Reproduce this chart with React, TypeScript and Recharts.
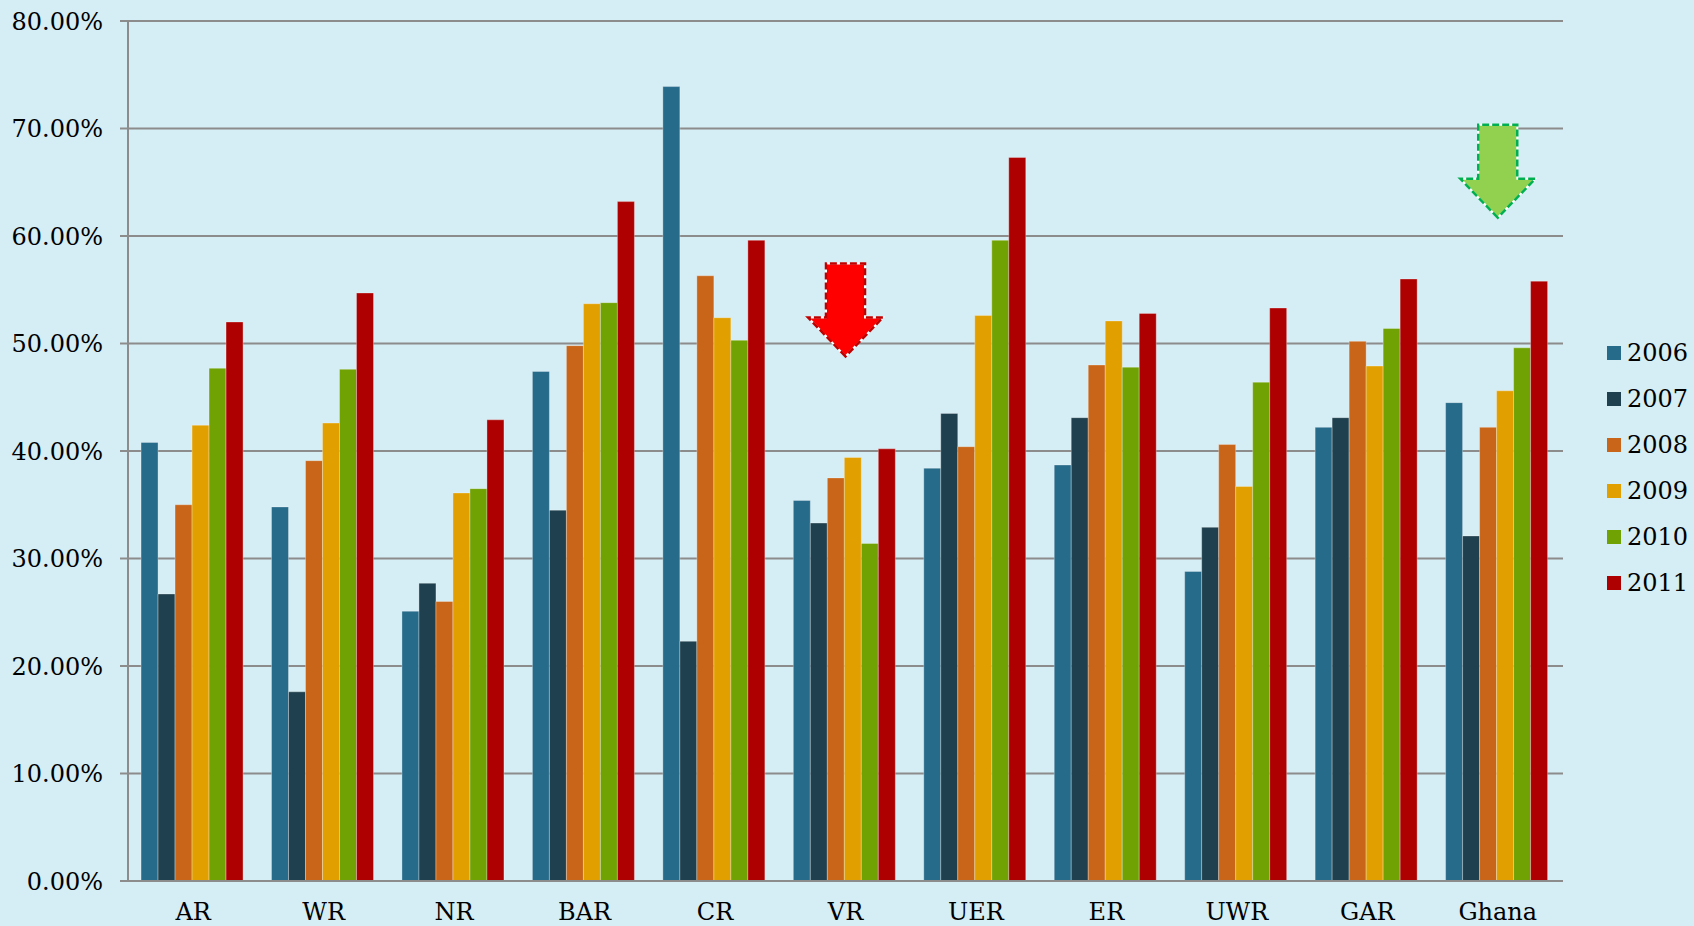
import { BarChart, Bar, XAxis, YAxis, CartesianGrid, ReferenceDot } from "recharts";

const CATEGORIES = ["AR", "WR", "NR", "BAR", "CR", "VR", "UER", "ER", "UWR", "GAR", "Ghana"];
const YEARS = ["2006", "2007", "2008", "2009", "2010", "2011"];
const COLORS = ["#276B8A", "#1F404E", "#C86518", "#E1A000", "#70A204", "#AE0000"];

// percentages
const Y2006 = [40.8, 34.8, 25.1, 47.4, 73.9, 35.4, 38.4, 38.7, 28.8, 42.2, 44.5];
const Y2007 = [26.7, 17.6, 27.7, 34.5, 22.3, 33.3, 43.5, 43.1, 32.9, 43.1, 32.1];
const Y2008 = [35.0, 39.1, 26.0, 49.8, 56.3, 37.5, 40.4, 48.0, 40.6, 50.2, 42.2];
const Y2009 = [42.4, 42.6, 36.1, 53.7, 52.4, 39.4, 52.6, 52.1, 36.7, 47.9, 45.6];
const Y2010 = [47.7, 47.6, 36.5, 53.8, 50.3, 31.4, 59.6, 47.8, 46.4, 51.4, 49.6];
const Y2011 = [52.0, 54.7, 42.9, 63.2, 59.6, 40.2, 67.3, 52.8, 53.3, 56.0, 55.8];
const SERIES = [Y2006, Y2007, Y2008, Y2009, Y2010, Y2011];

const Y_TICKS = [0, 10, 20, 30, 40, 50, 60, 70, 80];

// arrow annotations: category and value of the tip
const RED_ARROW = { at: "VR", value: 48.8 };
const GREEN_ARROW = { at: "Ghana", value: 61.7 };

const data = CATEGORIES.map((name, i) => {
  const row: any = { name };
  YEARS.forEach((y, j) => {
    row[y] = SERIES[j][i];
  });
  return row;
});

// tick marks sit on the boundaries between categories
const EDGE_TICKS = CATEGORIES.map((_, i) => i).concat(CATEGORIES.length);

const FONT = "'DejaVu Serif', serif";
const GRID = "#8C8C8C";

const makeArrow = (fill: string, stroke: string) => (props: any) => {
  const { cx, cy } = props;
  const pts = [
    [cx, cy],
    [cx - 37.5, cy - 39],
    [cx - 19.5, cy - 39],
    [cx - 19.5, cy - 93],
    [cx + 19.5, cy - 93],
    [cx + 19.5, cy - 39],
    [cx + 37.5, cy - 39],
  ]
    .map((p) => p.join(","))
    .join(" ");
  return (
    <g>
      <polygon points={pts} fill={fill} stroke="#ffffff" strokeWidth={2} />
      <polygon points={pts} fill="none" stroke={stroke} strokeWidth={2.5} strokeDasharray="7 3" />
    </g>
  );
};

const App = () => {
  return (
    <div
      style={{
        position: "absolute",
        left: 0,
        top: 0,
        width: 1694,
        height: 926,
        background: "#D5EDF5",
        overflow: "hidden",
      }}
    >
      <BarChart
        width={1694}
        height={926}
        data={data}
        margin={{ top: 21, right: 131, bottom: 0, left: 0 }}
        barCategoryGap="10%"
        barGap={0}
      >
        <CartesianGrid xAxisId="cat" vertical={false} stroke={GRID} strokeWidth={2} />
        <XAxis
          xAxisId="edges"
          type="number"
          domain={[0, CATEGORIES.length]}
          ticks={EDGE_TICKS}
          tick={false}
          axisLine={false}
          tickLine={{ stroke: GRID, strokeWidth: 2 }}
          tickSize={7}
          height={0}
          allowDataOverflow
        />
        <XAxis
          xAxisId="cat"
          dataKey="name"
          axisLine={{ stroke: GRID, strokeWidth: 2 }}
          tickLine={false}
          tickSize={0}
          tickMargin={22}
          height={45}
          interval={0}
          tick={{ fill: "#000", fontSize: 24, fontFamily: FONT }}
        />
        <YAxis
          width={128}
          domain={[0, 80]}
          ticks={Y_TICKS}
          interval={0}
          axisLine={{ stroke: GRID, strokeWidth: 2 }}
          tickLine={{ stroke: GRID, strokeWidth: 2 }}
          tickSize={8}
          tickMargin={17}
          tickFormatter={(v: number) => `${v.toFixed(2)}%`}
          tick={{ fill: "#000", fontSize: 24, fontFamily: FONT }}
        />
        {YEARS.map((y, i) => (
          <Bar
            key={y}
            xAxisId="cat"
            dataKey={y}
            fill={COLORS[i]}
            stroke="rgba(255,255,255,0.3)"
            strokeWidth={1}
            isAnimationActive={false}
          />
        ))}
        <ReferenceDot
          xAxisId="cat"
          x={RED_ARROW.at}
          y={RED_ARROW.value}
          r={0}
          ifOverflow="visible"
          shape={makeArrow("#FF0000", "#C00000")}
        />
        <ReferenceDot
          xAxisId="cat"
          x={GREEN_ARROW.at}
          y={GREEN_ARROW.value}
          r={0}
          ifOverflow="visible"
          shape={makeArrow("#92D050", "#00B050")}
        />
      </BarChart>

      <div style={{ position: "absolute", left: 1607, top: 330, fontFamily: FONT }}>
        {YEARS.map((y, i) => (
          <div key={y} style={{ display: "flex", alignItems: "center", height: 46 }}>
            <div style={{ width: 14, height: 14, background: COLORS[i], marginRight: 6 }}></div>
            <span style={{ fontSize: 24, lineHeight: 1, color: "#000" }}>{y}</span>
          </div>
        ))}
      </div>
    </div>
  );
};

export default App;
